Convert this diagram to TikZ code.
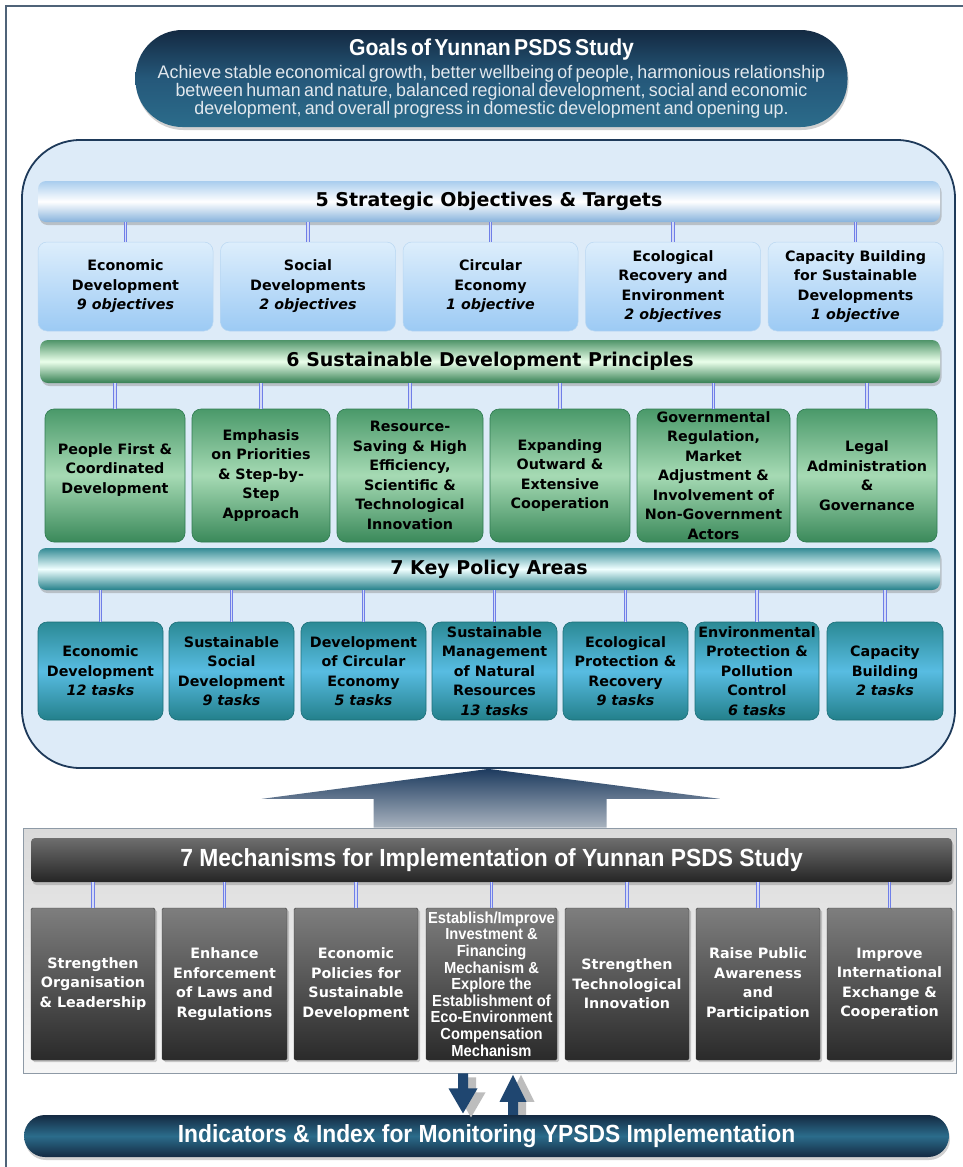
\documentclass[tikz,border=0pt]{standalone}
\usepackage{fontspec}
\setmainfont{DejaVu Sans}
\newfontfamily\nrwfam[FakeStretch=0.92]{Liberation Sans}
\newfontfamily\descfam[FakeStretch=0.98]{Liberation Sans}
\usetikzlibrary{calc,shadows}
\definecolor{framec}{HTML}{4F6378}
\definecolor{contF}{HTML}{DDEBF8}
\definecolor{contD}{HTML}{1E3A5A}
\definecolor{connc}{HTML}{6F7FE8}
\definecolor{conni}{HTML}{D4DAF6}
\definecolor{objT}{HTML}{DDEEFC}
\definecolor{objB}{HTML}{9CCAF4}
\definecolor{objD}{HTML}{B9D7F2}
\definecolor{grT}{HTML}{4A996A}
\definecolor{grM}{HTML}{A6DAB4}
\definecolor{grB}{HTML}{3A895A}
\definecolor{grD}{HTML}{2E7A50}
\definecolor{tlT}{HTML}{2B8A95}
\definecolor{tlM}{HTML}{58BCE2}
\definecolor{tlB}{HTML}{23808B}
\definecolor{tlD}{HTML}{1C6F78}
\definecolor{mbT}{HTML}{7E7E7E}
\definecolor{mbB}{HTML}{2A2A2A}
\definecolor{mbD}{HTML}{3A3A3A}
\definecolor{bbT}{HTML}{A9CDEE}
\definecolor{bbB}{HTML}{86B2DC}
\definecolor{gbT}{HTML}{4F9469}
\definecolor{gbB}{HTML}{357F53}
\definecolor{tbT}{HTML}{348B95}
\definecolor{tbB}{HTML}{24808A}
\definecolor{mhT}{HTML}{6E6E6E}
\definecolor{mhB}{HTML}{252525}
\definecolor{mhM}{HTML}{4A4A4A}
\definecolor{gpT}{HTML}{142A42}
\definecolor{gpM}{HTML}{25587A}
\definecolor{gpB}{HTML}{2B6C8B}
\definecolor{goaltxt}{HTML}{E2E8EE}
\definecolor{arrT}{HTML}{1D3B5F}
\definecolor{arrB}{HTML}{A9B3BF}
\definecolor{sarr}{HTML}{1F4670}
\definecolor{sshad}{HTML}{BDBDBD}
\definecolor{panT}{HTML}{DADADA}
\definecolor{panB}{HTML}{F6F6F6}
\definecolor{panD}{HTML}{8E9AA6}
\newcommand\bxf{\fontsize{14.3}{19.5}\selectfont\bfseries}
\newcommand\hdf{\fontsize{19}{22}\selectfont\bfseries}
\newcommand\nrwf{\nrwfam\bfseries}
\begin{document}
\begin{tikzpicture}[x=1pt,y=-1pt,
  conn/.style={draw=connc, double=conni, double distance=1.8pt, line width=0.7pt},
  bxbase/.style={rounded corners=9pt, inner sep=0pt, align=center, font=\bxf},
  objb/.style={bxbase, top color=objT, bottom color=objB, draw=objD, line width=0.5pt, minimum width=175pt, minimum height=89pt},
  prb/.style={bxbase, top color=grT, bottom color=grB, middle color=grM, draw=grD, line width=0.6pt, minimum height=133pt},
  pob/.style={bxbase, top color=tlT, bottom color=tlB, middle color=tlM, draw=tlD, line width=0.6pt, minimum height=98pt},
  meb/.style={bxbase, rounded corners=1.5pt, top color=mbT, bottom color=mbB, draw=mbD, line width=0.4pt, minimum height=152pt, text=white, drop shadow={shadow xshift=2pt,shadow yshift=-2pt,fill=black!40,opacity=0.5}},
  barbase/.style={rounded corners=8pt, inner sep=0pt, font=\hdf, drop shadow={shadow xshift=1.5pt, shadow yshift=-3pt, fill=black!45, opacity=0.45}},
  bluebar/.style={barbase, top color=bbT, bottom color=bbB, middle color=white},
  greenbar/.style={barbase, top color=gbT, bottom color=gbB, middle color=white!92!green},
  tealbar/.style={barbase, top color=tbT, bottom color=tbB, middle color=white!94!cyan},
  mechbar/.style={barbase, rounded corners=4pt, top color=mhT, bottom color=mhB, middle color=mhM, text=white, font=\nrwf\fontsize{24.8}{26}\selectfont},
  pill/.style={inner sep=0pt, text=white, drop shadow={shadow xshift=1pt, shadow yshift=-3pt, fill=black!40, opacity=0.45}}
]
\useasboundingbox (0,0) rectangle (962,1167);
\fill[white] (0,0) rectangle (962,1167);
\draw[framec, line width=1.6pt] (6,6) rectangle (990,1200);

% goals
\node[pill, rounded corners=47pt, top color=gpT, bottom color=gpB, middle color=gpM, minimum width=712pt, minimum height=97pt, text width=705pt, align=center] (goal) at (491.5,78.5)
 {\nrwf\fontsize{23}{24}\selectfont Goals of Yunnan PSDS Study\\[5pt]
  \descfam\mdseries\fontsize{18.2}{18.3}\selectfont\color{goaltxt}Achieve stable economical growth, better wellbeing of people, harmonious relationship\\ between human and nature, balanced regional development, social and economic\\ development, and overall progress in domestic development and opening up.};

% container
\node[draw=contD, fill=contF, line width=1.8pt, rounded corners=58pt, minimum width=933pt, minimum height=628pt] (cont) at (488.5,454) {};

% 5 objectives
\node[bluebar, minimum width=902pt, minimum height=41pt] (b5) at (489,201.5) {5 Strategic Objectives \& Targets};
\node[objb] (o1) at (125.5,286.5) {Economic\\Development\\\textit{9 objectives}};
\node[objb] (o2) at (308,286.5) {Social\\Developments\\\textit{2 objectives}};
\node[objb] (o3) at (490.5,286.5) {Circular\\Economy\\\textit{1 objective}};
\node[objb] (o4) at (673,286.5) {Ecological\\Recovery and\\Environment\\\textit{2 objectives}};
\node[objb] (o5) at (855.5,286.5) {Capacity Building\\for Sustainable\\Developments\\\textit{1 objective}};
\foreach \n in {o1,o2,o3,o4,o5} \draw[conn] (\n.north) -- (\n.north |- b5.south);

% 6 principles
\node[greenbar, minimum width=900pt, minimum height=43pt] (b6) at (490,361.5) {6 Sustainable Development Principles};
\node[prb, minimum width=140pt] (p1) at (115,475.5) {People First \&\\Coordinated\\Development\\[-5pt]};
\node[prb, minimum width=138pt] (p2) at (261,475.5) {Emphasis\\on Priorities\\\& Step-by-\\Step\\Approach};
\node[prb, minimum width=146pt] (p3) at (410,475.5) {Resource-\\Saving \& High\\Efficiency,\\Scientific \&\\Technological\\Innovation};
\node[prb, minimum width=140pt] (p4) at (560,475.5) {Expanding\\Outward \&\\Extensive\\Cooperation};
\node[prb, minimum width=153pt] (p5) at (713.5,475.5) {Governmental\\Regulation,\\Market\\Adjustment \&\\Involvement of\\Non-Government\\Actors};
\node[prb, minimum width=140pt] (p6) at (867,475.5) {Legal\\Administration\\\&\\Governance};
\foreach \n in {p1,p2,p3,p4,p5,p6} \draw[conn] (\n.north) -- (\n.north |- b6.south);

% 7 policy areas
\node[tealbar, minimum width=902pt, minimum height=42pt] (b7) at (489,569) {7 Key Policy Areas};
\node[pob, minimum width=125pt] (k1) at (100.5,671) {Economic\\Development\\\textit{12 tasks}};
\node[pob, minimum width=125pt] (k2) at (231.5,671) {Sustainable\\Social\\Development\\\textit{9 tasks}};
\node[pob, minimum width=125pt] (k3) at (363.5,671) {Development\\of Circular\\Economy\\\textit{5 tasks}};
\node[pob, minimum width=125pt] (k4) at (494.5,671) {Sustainable\\Management\\of Natural\\Resources\\\textit{13 tasks}};
\node[pob, minimum width=125pt] (k5) at (625.5,671) {Ecological\\Protection \&\\Recovery\\\textit{9 tasks}};
\node[pob, minimum width=124pt] (k6) at (757,671) {Environmental\\Protection \&\\Pollution\\Control\\\textit{6 tasks}};
\node[pob, minimum width=116pt] (k7) at (885,671) {Capacity\\Building\\\textit{2 tasks}};
\foreach \n in {k1,k2,k3,k4,k5,k6,k7} \draw[conn] (\n.north) -- (\n.north |- b7.south);

% mechanisms panel
\node[draw=panD, top color=panT, bottom color=panB, line width=0.8pt, minimum width=933pt, minimum height=245pt, inner sep=0pt] (panel) at (489.5,950.5) {};

% big arrow
\shade[top color=arrT, bottom color=arrB]
  (cont.south) -- ($(cont.south)+(-227,30)$) -- ($(cont.south)+(-115,30)$) -- ($(panel.north)+(-116,0)$)
  -- ($(panel.north)+(117,0)$) -- ($(cont.south)+(118,30)$) -- ($(cont.south)+(232,30)$) -- cycle;

\node[mechbar, minimum width=921pt, minimum height=44pt] (bm) at (491.5,860) {7 Mechanisms for Implementation of Yunnan PSDS Study};
\node[meb, minimum width=124pt] (m1) at (93,984) {Strengthen\\Organisation\\\& Leadership};
\node[meb, minimum width=125pt] (m2) at (224.5,984) {Enhance\\Enforcement\\of Laws and\\Regulations};
\node[meb, minimum width=124pt] (m3) at (356,984) {Economic\\Policies for\\Sustainable\\Development};
\node[meb, minimum width=131pt, font=\nrwf\fontsize{16}{16.6}\selectfont] (m4) at (491.5,984) {Establish/Improve\\Investment \&\\Financing\\Mechanism \&\\Explore the\\Establishment of\\Eco-Environment\\Compensation\\Mechanism};
\node[meb, minimum width=124pt] (m5) at (627,984) {Strengthen\\Technological\\Innovation};
\node[meb, minimum width=124pt] (m6) at (758,984) {Raise Public\\Awareness\\and\\Participation};
\node[meb, minimum width=125pt] (m7) at (889.5,984) {Improve\\International\\Exchange \&\\Cooperation};
\foreach \n in {m1,m2,m3,m4,m5,m6,m7} \draw[conn] (\n.north) -- (\n.north |- bm.south);

% indicators
\node[pill, rounded corners=21pt, top color=gpT, bottom color=gpT, middle color=gpB, minimum width=925pt, minimum height=42pt, font=\nrwf\fontsize{24.8}{26}\selectfont] (ind) at (486.5,1136) {Indicators \& Index for Monitoring YPSDS Implementation};

% small arrows
\coordinate (dA) at ($(panel.south)+(-26.5,0)$);
\coordinate (uA) at ($(ind.north)+(26.5,0)$);
\fill[sshad] ($(dA)+(8,4)$) ++(-5,0) -- ++(10,0) -- ++(0,15) -- ++(9.5,0) -- ++(-14.5,25) -- ++(-14.5,-25) -- ++(9.5,0) -- cycle;
\fill[sshad] ($(uA)+(8,0)$) ++(-5,0) -- ++(10,0) -- ++(0,-13) -- ++(8.5,0) -- ++(-13.5,-27) -- ++(-13.5,27) -- ++(8.5,0) -- cycle;
\fill[sarr] (dA) ++(-5,0) -- ++(10,0) -- ++(0,15) -- ++(9.5,0) -- ++(-14.5,25) -- ++(-14.5,-25) -- ++(9.5,0) -- cycle;
\fill[sarr] (uA) ++(-5,0) -- ++(10,0) -- ++(0,-13) -- ++(8.5,0) -- ++(-13.5,-27) -- ++(-13.5,27) -- ++(8.5,0) -- cycle;
\end{tikzpicture}
\end{document}
